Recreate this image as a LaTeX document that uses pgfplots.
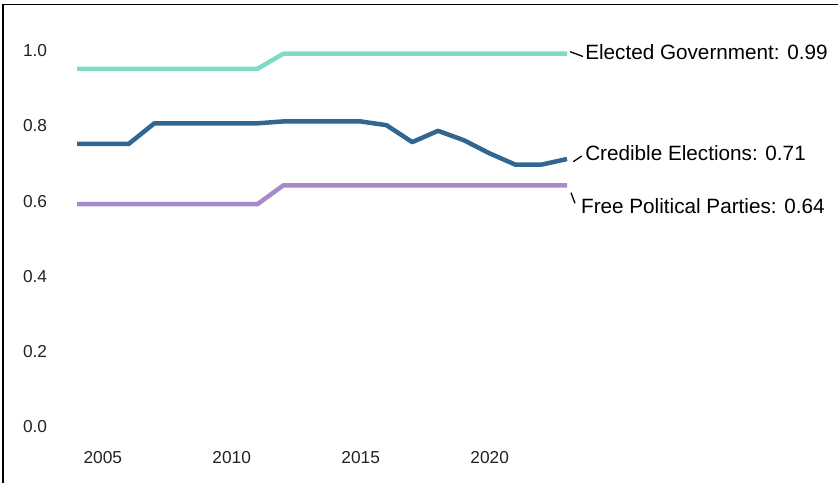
\documentclass[border=0pt]{standalone}
\usepackage{fontspec}
\setmainfont{Liberation Sans}
\usepackage{pgfplots}
\pgfplotsset{compat=1.18}
\definecolor{govcol}{RGB}{127,219,199}
\definecolor{elecol}{RGB}{50,102,146}
\definecolor{parcol}{RGB}{168,138,200}
\definecolor{tickgray}{RGB}{34,34,34}
\begin{document}
\begin{tikzpicture}[x=1bp,y=1bp]
\useasboundingbox (0,0) rectangle (838,483);
% frame (left and top only)
\draw[line width=1.8bp] (3,0) -- (3,478.4) -- (838,478.4);
\begin{axis}[
    at={(77bp,57bp)}, anchor=south west,
    scale only axis, width=490bp, height=376bp,
    xmin=2004, xmax=2023, ymin=0, ymax=1,
    axis line style={draw=none},
    major tick style={draw=none},
    clip=false,
    xtick={2005,2010,2015,2020},
    ytick={0,0.2,0.4,0.6,0.8,1.0},
    /pgf/number format/assume math mode=true,
    ticklabel style={font=\fontsize{17.3bp}{20bp}\selectfont, text=tickgray, inner sep=0pt},
    xticklabel style={anchor=base, yshift=-37.3bp, /pgf/number format/1000 sep={}},
    yticklabel style={anchor=base east, xshift=-29.7bp, yshift=-6.7bp,
        /pgf/number format/.cd, fixed, fixed zerofill, precision=1},
]
    % Elected Government
    \addplot[govcol, line width=4.5bp, line join=round] coordinates {
        (2004,0.95) (2005,0.95) (2006,0.95) (2007,0.95) (2008,0.95) (2009,0.95)
        (2010,0.95) (2011,0.95) (2012,0.99) (2013,0.99) (2014,0.99) (2015,0.99)
        (2016,0.99) (2017,0.99) (2018,0.99) (2019,0.99) (2020,0.99) (2021,0.99)
        (2022,0.99) (2023,0.99)
    };
    % Credible Elections
    \addplot[elecol, line width=4.5bp, line join=round] coordinates {
        (2004,0.75) (2005,0.75) (2006,0.75) (2007,0.805) (2008,0.805) (2009,0.805)
        (2010,0.805) (2011,0.805) (2012,0.81) (2013,0.81) (2014,0.81) (2015,0.81)
        (2016,0.80) (2017,0.755) (2018,0.785) (2019,0.76) (2020,0.725) (2021,0.695)
        (2022,0.695) (2023,0.71)
    };
    % Free Political Parties
    \addplot[parcol, line width=4.5bp, line join=round] coordinates {
        (2004,0.59) (2005,0.59) (2006,0.59) (2007,0.59) (2008,0.59) (2009,0.59)
        (2010,0.59) (2011,0.59) (2012,0.64) (2013,0.64) (2014,0.64) (2015,0.64)
        (2016,0.64) (2017,0.64) (2018,0.64) (2019,0.64) (2020,0.64) (2021,0.64)
        (2022,0.64) (2023,0.64)
    };
    % end labels with short leaders
    \draw[black, line width=1.3bp] (axis cs:2023.117,0.9955) -- (axis cs:2023.62,0.9827);
    \draw[black, line width=1.3bp] (axis cs:2023.245,0.7029) -- (axis cs:2023.570,0.7181);
    \draw[black, line width=1.3bp] (axis cs:2023.155,0.6205) -- (axis cs:2023.31,0.5923);
    \begin{scope}[every node/.style={anchor=base west, inner sep=0pt, text=black,
        font=\fontsize{20.7bp}{24bp}\selectfont}]
    \node at (axis cs:2023.70,0.975) {Elected Government: 0.99};
    \node at (axis cs:2023.70,0.7074) {Credible Elections: 0.71};
    \node at (axis cs:2023.54,0.5657) {Free Political Parties: 0.64};
    \end{scope}
\end{axis}
\end{tikzpicture}
\end{document}
